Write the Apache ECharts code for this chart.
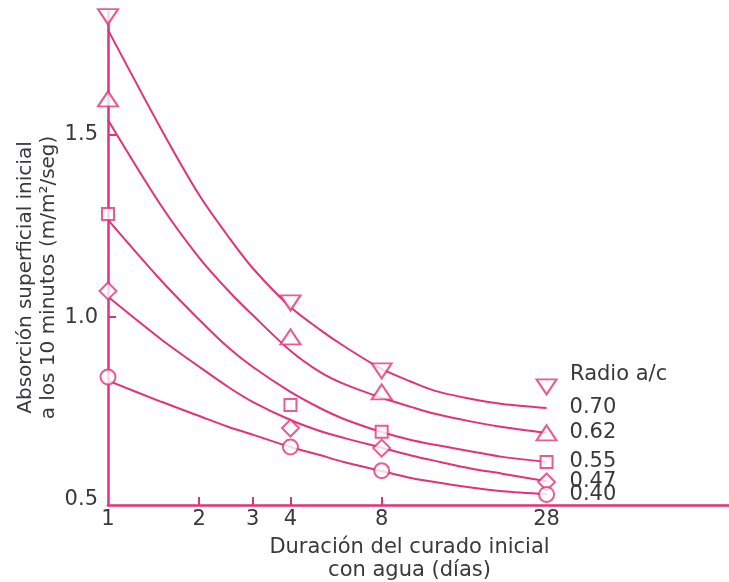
<!DOCTYPE html>
<html>
<head>
<meta charset="utf-8">
<script src="https://cdn.jsdelivr.net/npm/echarts@6/dist/echarts.min.js"></script>
<style>html,body{margin:0;padding:0;background:#fff}#c{width:729px;height:582px}</style>
</head>
<body>
<div id="c"></div>
<script>
// ---- data ----
const xTicks = [1, 2, 3, 4, 8, 28];
const xTickMarks = [2, 3, 4, 8];
const yTicks = [0.5, 1.0, 1.5];
const ratios = ['0.70', '0.62', '0.55', '0.47', '0.40'];
const markerDays = [1, 4, 8, 28];
const m070 = [1.824, 1.039, 0.853, 0.809];
const m062 = [1.599, 0.946, 0.795, 0.683];
const m055 = [1.283, 0.759, 0.686, 0.603];
const m047 = [1.072, 0.696, 0.641, 0.548];
const m040 = [0.836, 0.644, 0.579, 0.514];
const curveDays = [1, 1.5, 2, 2.5, 3, 4, 5, 6, 8, 10, 12, 16, 20, 28];
const c070 = [1.788, 1.515, 1.335, 1.220, 1.135, 1.028, 0.966, 0.921, 0.858, 0.823, 0.798, 0.775, 0.762, 0.751];
const c062 = [1.541, 1.305, 1.163, 1.072, 1.006, 0.908, 0.850, 0.817, 0.779, 0.754, 0.735, 0.713, 0.699, 0.683];
const c055 = [1.267, 1.100, 0.993, 0.916, 0.864, 0.795, 0.751, 0.721, 0.685, 0.663, 0.650, 0.631, 0.617, 0.603];
const c047 = [1.056, 0.939, 0.864, 0.808, 0.768, 0.718, 0.688, 0.669, 0.642, 0.621, 0.606, 0.584, 0.571, 0.550];
const c040 = [0.826, 0.768, 0.729, 0.699, 0.678, 0.644, 0.622, 0.603, 0.578, 0.559, 0.548, 0.532, 0.523, 0.515];

const PINK = '#e2327a';
const TXT = '#383840';
const FONT = 'DejaVu Sans';

const markerSets = [m070, m062, m055, m047, m040];
const curveSets = [c070, c062, c055, c047, c040];
const symbols = [
  {symbol: 'triangle', size: [20, 15], rotate: 180},
  {symbol: 'triangle', size: [20, 15], rotate: 0},
  {symbol: 'rect', size: [12, 12], rotate: 0},
  {symbol: 'diamond', size: [17, 17], rotate: 0},
  {symbol: 'circle', size: [15, 15], rotate: 0}
];

const zip = (xs, ys) => xs.map((x, i) => [x, ys[i]]);

const series = [];
ratios.forEach((r, i) => {
  series.push({
    name: r,
    type: 'line',
    data: zip(curveDays, curveSets[i]),
    smooth: 0.3,
    showSymbol: false,
    clip: false,
    lineStyle: {color: PINK, width: 2},
    endLabel: {show: true, formatter: r, distance: 23, color: TXT, fontSize: 21, fontFamily: FONT},
    z: 2,
    silent: true
  });
});
ratios.forEach((r, i) => {
  series.push({
    name: 'm' + r,
    type: 'scatter',
    data: zip(markerDays, markerSets[i]),
    symbol: symbols[i].symbol,
    symbolSize: symbols[i].size,
    symbolRotate: symbols[i].rotate,
    clip: false,
    itemStyle: {color: '#fff', borderColor: PINK, borderWidth: 2},
    z: 3,
    silent: true
  });
});

const chart = echarts.init(document.getElementById('c'));
chart.setOption({
  animation: false,
  backgroundColor: '#fff',
  title: {
    text: 'Radio a/c', left: 565, top: 359,
    textStyle: {color: TXT, fontSize: 21, fontWeight: 'normal', fontFamily: FONT}
  },
  grid: {left: 108, right: 0, top: 12, bottom: 77, containLabel: false, outerBoundsMode: 'none'},
  xAxis: {
    type: 'log', logBase: 10, min: 1, max: 112,
    name: 'Duración del curado inicial\ncon agua (días)',
    nameLocation: 'middle', nameGap: 31,
    nameTextStyle: {color: TXT, fontSize: 21, fontFamily: FONT, lineHeight: 23, padding: [0, 18, 0, 0]},
    axisLine: {lineStyle: {color: PINK, width: 2.5}},
    axisTick: {show: true, inside: true, length: 8, customValues: xTickMarks, lineStyle: {color: PINK, width: 2}},
    axisLabel: {customValues: xTicks, color: TXT, fontSize: 21, fontFamily: FONT, margin: 4},
    splitLine: {show: false},
    minorTick: {show: false}
  },
  yAxis: {
    type: 'value', min: 0.485, max: 1.837,
    name: 'Absorción superficial inicial\na los 10 minutos (m/m²/seg)',
    nameLocation: 'middle', nameRotate: 90, nameGap: 48, nameMoveOverlap: false,
    nameTextStyle: {color: TXT, fontSize: 20, fontFamily: FONT, lineHeight: 23, padding: [0, 38, 0, 0]},
    axisLine: {show: true, lineStyle: {color: PINK, width: 2.5}},
    axisTick: {show: true, inside: true, length: 8, customValues: yTicks.slice(1), lineStyle: {color: PINK, width: 2}},
    axisLabel: {customValues: yTicks, color: TXT, fontSize: 21, fontFamily: FONT, margin: 10,
      formatter: v => Number(v).toFixed(1)},
    splitLine: {show: false}
  },
  series: series
});
</script>
</body>
</html>
